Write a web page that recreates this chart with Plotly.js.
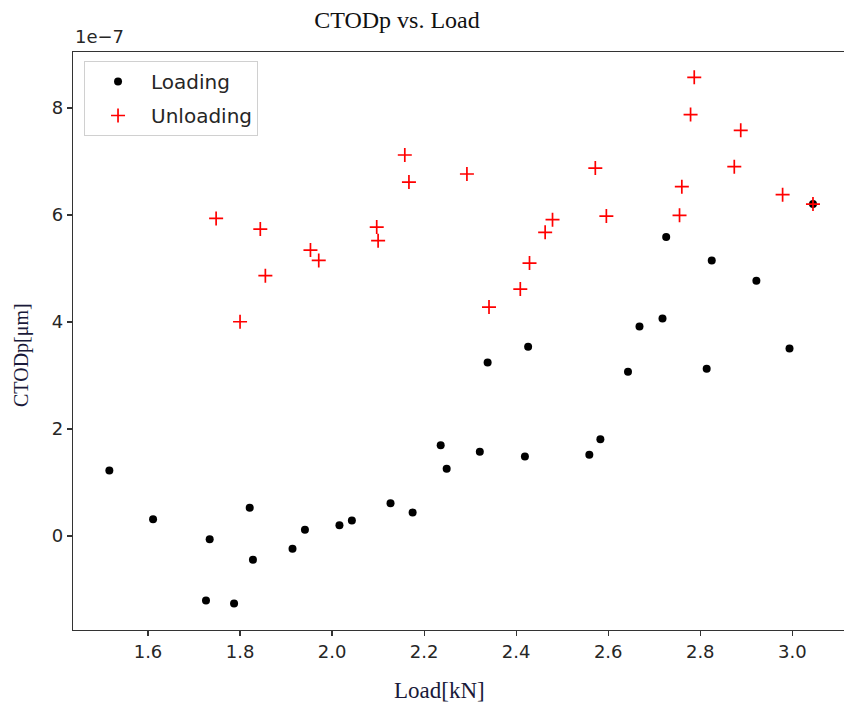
<!DOCTYPE html>
<html>
<head>
<meta charset="utf-8">
<script src="https://cdn.plot.ly/plotly-3.0.1.min.js"></script>
<style>html,body{margin:0;padding:0;background:#fff;overflow:hidden}#chart{width:844px;height:709px}</style>
</head>
<body>
<div id="chart"></div>
<script>
// Loading points: load [kN], CTODp in units of 1e-7
const loadingLoad = [1.516, 1.611, 1.734, 1.726, 1.787, 1.821, 1.828, 1.914, 1.941, 2.016, 2.043, 2.127, 2.175, 2.236, 2.249,
  2.338, 2.426, 2.321, 2.419, 2.559, 2.583, 2.643, 2.668, 2.718, 2.814, 2.994, 2.726, 2.825, 2.922, 3.045];
const loadingCtod = [1.226, 0.316, -0.058, -1.204, -1.260, 0.529, -0.443, -0.237, 0.118, 0.204, 0.292, 0.615, 0.441, 1.699, 1.258,
  3.245, 3.538, 1.575, 1.488, 1.519, 1.811, 3.071, 3.918, 4.067, 3.127, 3.507, 5.587, 5.151, 4.772, 6.204];

// Unloading points
const unloadingLoad = [1.748, 1.844, 1.855, 1.800, 1.953, 1.971, 2.097, 2.100, 2.158, 2.167, 2.293, 2.341,
  2.409, 2.429, 2.463, 2.479, 2.572, 2.596, 2.787, 2.779, 2.888, 2.874, 2.760, 2.755, 2.979, 3.045];
const unloadingCtod = [5.936, 5.737, 4.865, 4.005, 5.344, 5.151, 5.774, 5.519, 7.120, 6.615, 6.765, 4.279,
  4.615, 5.101, 5.675, 5.912, 6.877, 5.979, 8.572, 7.875, 7.581, 6.903, 6.529, 5.993, 6.379, 6.204];

const xTickVals = [1.6, 1.8, 2.0, 2.2, 2.4, 2.6, 2.8, 3.0];
const xTickText = ['1.6', '1.8', '2.0', '2.2', '2.4', '2.6', '2.8', '3.0'];
const yTickVals = [0, 2, 4, 6, 8];
const yTickText = ['0', '2', '4', '6', '8'];

const tickFont = {family: 'DejaVu Sans, sans-serif', size: 18, color: '#262626'};
const serif = 'Liberation Serif, Times New Roman, serif';

const traces = [
  {
    type: 'scatter', mode: 'markers', name: 'Loading', legendgroup: 'a',
    x: loadingLoad, y: loadingCtod,
    marker: {symbol: 'circle', size: 8, color: '#000000'}
  },
  {
    type: 'scatter', mode: 'markers', name: 'Unloading', legendgroup: 'b',
    x: unloadingLoad, y: unloadingCtod,
    marker: {symbol: 'cross-thin', size: 10, color: '#ff0000', line: {color: '#ff0000', width: 1.7}}
  }
];

const layout = {
  width: 844, height: 709,
  margin: {l: 73, r: 0, t: 52, b: 79, pad: 0},
  paper_bgcolor: '#ffffff', plot_bgcolor: '#ffffff',
  title: {text: 'CTODp vs. Load', font: {family: serif, size: 24, color: '#111111'},
          xref: 'container', yref: 'container', x: 397/844, y: 1 - 20/709, xanchor: 'center', yanchor: 'middle'},
  showlegend: true,
  legend: {x: 0.0143, y: (630 - 61)/578, xanchor: 'left', yanchor: 'top',
           bgcolor: 'rgba(255,255,255,0.85)', bordercolor: '#d0d0d0', borderwidth: 1,
           font: {family: 'DejaVu Sans, sans-serif', size: 20, color: '#262626'},
           tracegroupgap: 5, itemwidth: 56},
  xaxis: {range: [1.437, 3.1124], tickvals: xTickVals, ticktext: xTickText,
          showgrid: false, zeroline: false, showline: true, mirror: true,
          linecolor: '#333333', linewidth: 1.3, ticks: 'outside', ticklen: 5, tickwidth: 1.2, tickcolor: '#333333',
          tickfont: tickFont},
  yaxis: {range: [-1.755, 9.045], tickvals: yTickVals, ticktext: yTickText,
          showgrid: false, zeroline: false, showline: true, mirror: false,
          linecolor: '#333333', linewidth: 1.3, ticks: 'outside', ticklen: 5, tickwidth: 1.2, tickcolor: '#333333',
          tickfont: tickFont},
  annotations: [
    {text: '1e\u22127', xref: 'paper', yref: 'paper', x: 0, y: 1, xanchor: 'left', yanchor: 'bottom',
     yshift: 3, showarrow: false, font: tickFont},
    {text: 'Load[kN]', xref: 'paper', yref: 'paper', x: (439 - 73)/771, y: 0, xanchor: 'center', yanchor: 'middle',
     yshift: -60, showarrow: false, font: {family: serif, size: 23, color: '#1a1a3a'}},
    {text: 'CTODp[\u03bcm]', xref: 'paper', yref: 'paper', x: 0, y: (630 - 355)/578, xanchor: 'center', yanchor: 'middle',
     xshift: -51, textangle: -90, showarrow: false, font: {family: serif, size: 20, color: '#1a1a3a'}}
  ]
};

Plotly.newPlot('chart', traces, layout, {displayModeBar: false, staticPlot: true});
</script>
</body>
</html>
